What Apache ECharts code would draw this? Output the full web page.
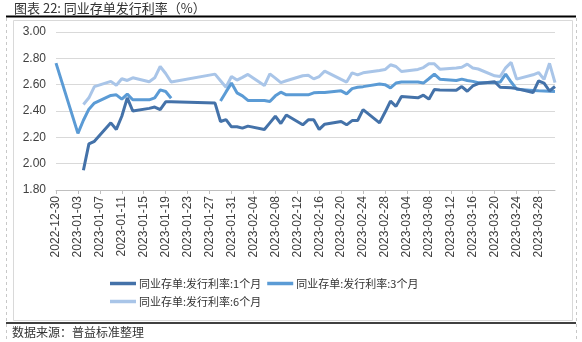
<!DOCTYPE html>
<html>
<head>
<meta charset="utf-8">
<script src="https://cdn.jsdelivr.net/npm/echarts@6/dist/echarts.min.js"></script>
<style>
  html, body { margin: 0; padding: 0; background: #ffffff; }
  #chart { width: 582px; height: 342px; }
</style>
</head>
<body>
<div id="chart"></div>
<script>
// Trading days with NCD issuance data
const dates = [
  '2022-12-30', '2023-01-03', '2023-01-04', '2023-01-05', '2023-01-06',
  '2023-01-09', '2023-01-10', '2023-01-11', '2023-01-12', '2023-01-13',
  '2023-01-16', '2023-01-17', '2023-01-18', '2023-01-19', '2023-01-20',
  '2023-01-28', '2023-01-29', '2023-01-30', '2023-01-31', '2023-02-01', '2023-02-02', '2023-02-03',
  '2023-02-06', '2023-02-07', '2023-02-08', '2023-02-09', '2023-02-10',
  '2023-02-13', '2023-02-14', '2023-02-15', '2023-02-16', '2023-02-17',
  '2023-02-20', '2023-02-21', '2023-02-22', '2023-02-23', '2023-02-24',
  '2023-02-27', '2023-02-28', '2023-03-01', '2023-03-02', '2023-03-03',
  '2023-03-06', '2023-03-07', '2023-03-08', '2023-03-09', '2023-03-10',
  '2023-03-13', '2023-03-14', '2023-03-15', '2023-03-16', '2023-03-17',
  '2023-03-20', '2023-03-21', '2023-03-22', '2023-03-23', '2023-03-24',
  '2023-03-27', '2023-03-28', '2023-03-29', '2023-03-30', '2023-03-31'
];

// Issuance rate, 1-month tenor (%)
const rate1M = [
  null, null, 1.95, 2.15, 2.17,
  2.31, 2.26, 2.36, 2.50, 2.40,
  2.42, 2.43, 2.41, 2.47, 2.47,
  2.46, 2.32, 2.335, 2.28, 2.28, 2.27, 2.285,
  2.26, 2.31, 2.36, 2.305, 2.37,
  2.295, 2.333, 2.333, 2.26, 2.30,
  2.32, 2.295, 2.327, 2.327, 2.41,
  2.31, 2.39, 2.475, 2.435, 2.51,
  2.50, 2.52, 2.49, 2.563, 2.56,
  2.558, 2.586, 2.55, 2.59, 2.608,
  2.622, 2.58, 2.578, 2.576, 2.57,
  2.54, 2.628, 2.612, 2.552, 2.586
];

// Issuance rate, 3-month tenor (%)
const rate3M = [
  2.764, 2.23, 2.33, 2.414, 2.46,
  2.518, 2.523, 2.49, 2.528, 2.485,
  2.485, 2.50, 2.56, 2.548, 2.497,
  null, 2.476, 2.545, 2.612, 2.538, 2.515, 2.48,
  2.48, 2.472, 2.515, 2.543, 2.523,
  2.523, 2.523, 2.538, 2.54, 2.54,
  2.553, 2.53, 2.57, 2.58, 2.585,
  2.605, 2.60, 2.576, 2.612, 2.62,
  2.62, 2.612, 2.645, 2.68, 2.642,
  2.632, 2.642, 2.632, 2.625, 2.614,
  2.614, 2.62, 2.68, 2.62, 2.566,
  2.555, 2.553, 2.552, 2.55, 2.548
];

// Issuance rate, 6-month tenor (%)
const rate6M = [
  null, null, 2.45, 2.50, 2.585,
  2.625, 2.595, 2.645, 2.632, 2.652,
  2.622, 2.652, 2.738, 2.685, 2.62,
  2.68, 2.63, 2.58, 2.662, 2.635, 2.655, 2.678,
  2.593, 2.682, 2.65, 2.616, 2.63,
  2.668, 2.672, 2.644, 2.662, 2.703,
  2.64, 2.62, 2.69, 2.675, 2.69,
  2.708, 2.715, 2.751, 2.738, 2.70,
  2.716, 2.73, 2.759, 2.758, 2.718,
  2.726, 2.732, 2.756, 2.726, 2.719,
  2.667, 2.662, 2.728, 2.769, 2.642,
  2.675, 2.692, 2.64, 2.762, 2.615
];

const seriesNames = ['同业存单:发行利率:1个月', '同业存单:发行利率:3个月', '同业存单:发行利率:6个月'];
const seriesColors = ['#4472A9', '#5B9BD5', '#A9C5E8'];

// Value axis: 1.80 to 3.00 in steps of 0.20
const yMin = 1.8, yMax = 3.0, yStep = 0.2;
// Date axis: Dec 30 to Mar 31, a label every 4 days
const axisStart = '2022-12-30', axisEnd = '2023-03-31', dayStep = 4;

const DAY = 86400000;
const base = Date.parse(axisStart);
const dayOf = s => (Date.parse(s) - base) / DAY;
const dateLabel = d => new Date(base + d * DAY).toISOString().slice(0, 10);

const toPoints = arr => dates.map((d, i) => [dayOf(d), arr[i] == null ? '-' : arr[i]]);

const cjk = '"Noto Sans CJK SC", "Noto Sans", sans-serif';
const latin = '"Liberation Sans", Arial, sans-serif';

const chart = echarts.init(document.getElementById('chart'), null, { renderer: 'canvas' });

const makeSeries = (idx, arr) => ({
  name: seriesNames[idx],
  type: 'line',
  data: toPoints(arr),
  showSymbol: false,
  symbol: 'none',
  connectNulls: false,
  lineStyle: { color: seriesColors[idx], width: 3 },
  itemStyle: { color: seriesColors[idx] },
  z: 3 - idx
});

const legendBase = {
  orient: 'horizontal',
  padding: 0,
  icon: 'rect',
  itemWidth: 26, itemHeight: 3.5, itemGap: 6,
  textStyle: { fontFamily: cjk, fontSize: 11, color: '#333333', padding: [0, 0, 0, -2] }
};

chart.setOption({
  animation: false,
  backgroundColor: '#ffffff',
  title: [
    {
      text: '图表 22: 同业存单发行利率（%）',
      left: 14, top: 2, padding: 0,
      textStyle: { fontFamily: cjk, fontSize: 13, fontWeight: 'normal', color: '#333333' }
    },
    {
      text: '数据来源：普益标准整理',
      left: 12, top: 326, padding: 0,
      textStyle: { fontFamily: cjk, fontSize: 12, fontWeight: 'normal', color: '#333333' }
    }
  ],
  graphic: [
    { type: 'line', shape: { x1: 6, y1: 16.5, x2: 576, y2: 16.5 }, style: { stroke: '#000000', lineWidth: 2 }, silent: true },
    { type: 'line', shape: { x1: 6.5, y1: 18, x2: 6.5, y2: 342 }, style: { stroke: '#c8c8c8', lineWidth: 1, lineDash: [3, 3] }, silent: true },
    { type: 'line', shape: { x1: 576.5, y1: 18, x2: 576.5, y2: 342 }, style: { stroke: '#c8c8c8', lineWidth: 1, lineDash: [3, 3] }, silent: true },
    { type: 'rect', shape: { x: 13.5, y: 20.5, width: 559, height: 300 }, style: { fill: 'none', stroke: '#d9d9d9', lineWidth: 1 }, silent: true },
    { type: 'line', shape: { x1: 6, y1: 323, x2: 576, y2: 323 }, style: { stroke: '#000000', lineWidth: 1.5 }, silent: true }
  ],
  legend: [
    Object.assign({ data: [seriesNames[0], seriesNames[1]], left: 110, top: 278 }, legendBase),
    Object.assign({ data: [seriesNames[2]], left: 110, top: 296 }, legendBase)
  ],
  grid: { left: 56, right: 27, top: 32, bottom: 152, containLabel: false },
  xAxis: {
    type: 'value',
    min: 0,
    max: dayOf(axisEnd),
    interval: dayStep,
    splitLine: { show: false },
    axisLine: { show: true, lineStyle: { color: '#bfbfbf', width: 1 } },
    axisTick: { show: true, length: 4, lineStyle: { color: '#bfbfbf' } },
    axisLabel: {
      rotate: 90,
      margin: 6,
      showMaxLabel: false,
      fontFamily: latin, fontSize: 12, color: '#404040',
      formatter: v => dateLabel(v)
    }
  },
  yAxis: {
    type: 'value',
    min: yMin, max: yMax, interval: yStep,
    axisLine: { show: false },
    axisTick: { show: false },
    splitLine: { show: true, lineStyle: { color: '#d9d9d9', width: 1 } },
    axisLabel: {
      margin: 10,
      fontFamily: latin, fontSize: 12, color: '#404040',
      formatter: v => v.toFixed(2)
    }
  },
  series: [
    makeSeries(0, rate1M),
    makeSeries(1, rate3M),
    makeSeries(2, rate6M)
  ]
});
</script>
</body>
</html>
